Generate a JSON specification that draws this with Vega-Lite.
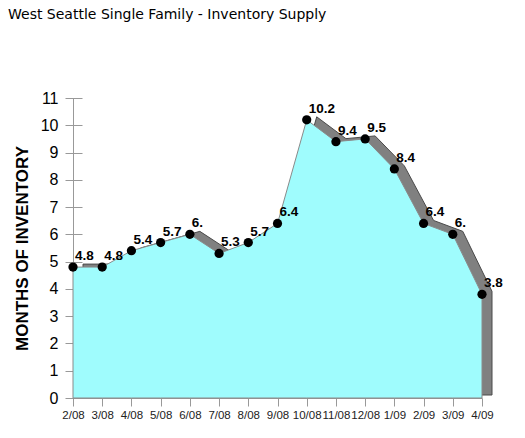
{
  "$schema": "https://vega.github.io/schema/vega-lite/v6.json",
  "width": 409,
  "height": 300,
  "autosize": "none",
  "padding": {"left": 73, "top": 98, "right": 43, "bottom": 40},
  "background": "white",
  "title": {
    "text": "West Seattle Single Family - Inventory Supply",
    "anchor": "start",
    "frame": "group",
    "dx": -65,
    "offset": 57,
    "baseline": "alphabetic",
    "font": "DejaVu Sans",
    "fontSize": 14,
    "fontWeight": "normal",
    "color": "black"
  },
  "data": {
    "values": [
      {"month": "2/08", "months": 4.8, "label": "4.8"},
      {"month": "3/08", "months": 4.8, "label": "4.8"},
      {"month": "4/08", "months": 5.4, "label": "5.4"},
      {"month": "5/08", "months": 5.7, "label": "5.7"},
      {"month": "6/08", "months": 6.0, "label": "6."},
      {"month": "7/08", "months": 5.3, "label": "5.3"},
      {"month": "8/08", "months": 5.7, "label": "5.7"},
      {"month": "9/08", "months": 6.4, "label": "6.4"},
      {"month": "10/08", "months": 10.2, "label": "10.2"},
      {"month": "11/08", "months": 9.4, "label": "9.4"},
      {"month": "12/08", "months": 9.5, "label": "9.5"},
      {"month": "1/09", "months": 8.4, "label": "8.4"},
      {"month": "2/09", "months": 6.4, "label": "6.4"},
      {"month": "3/09", "months": 6.0, "label": "6."},
      {"month": "4/09", "months": 3.8, "label": "3.8"}
    ]
  },
  "encoding": {
    "x": {
      "field": "month",
      "type": "ordinal",
      "sort": null,
      "scale": {"type": "point", "padding": 0},
      "title": null
    }
  },
  "layer": [
    {
      "mark": {"type": "area", "color": "#808080", "stroke": "#4a4a4a", "strokeWidth": 1, "xOffset": 10, "yOffset": -3},
      "encoding": {
        "y": {
          "field": "months",
          "type": "quantitative",
          "scale": {"domain": [0, 11], "nice": false},
          "axis": {
            "orient": "left",
            "domain": true,
            "domainColor": "#999999",
            "ticks": false,
            "labels": false,
            "grid": false,
            "title": "MONTHS OF INVENTORY",
            "titleFont": "Liberation Sans",
            "titleFontSize": 17,
            "titleFontWeight": "bold",
            "titleColor": "black",
            "titleAngle": -90,
            "titleX": -51,
            "titleY": 150,
            "titleAlign": "center",
            "titleBaseline": "middle"
          }
        }
      }
    },
    {
      "mark": {"type": "area", "color": "#9ffcfd", "stroke": "#8a8a8a", "strokeWidth": 1},
      "encoding": {
        "y": {
          "field": "months",
          "type": "quantitative",
          "scale": {"domain": [0, 11], "nice": false},
          "axis": {
            "orient": "left",
            "domain": false,
            "ticks": true,
            "tickSize": 17,
            "tickColor": "#999999",
            "offset": -9,
            "values": [0, 1, 2, 3, 4, 5, 6, 7, 8, 9, 10, 11],
            "labelFont": "Liberation Sans",
            "labelFontSize": 16,
            "labelColor": "black",
            "labelPadding": 7,
            "grid": false,
            "title": null
          }
        }
      }
    },
    {
      "mark": {"type": "circle", "color": "black", "opacity": 1, "size": 85},
      "encoding": {
        "y": {"field": "months", "type": "quantitative", "axis": null}
      }
    },
    {
      "mark": {"type": "text", "align": "left", "baseline": "alphabetic", "dx": 2, "dy": -7, "font": "Liberation Sans", "fontSize": 13.5, "fontWeight": "bold", "color": "black"},
      "encoding": {
        "y": {"field": "months", "type": "quantitative", "axis": null},
        "text": {"field": "label"}
      }
    }
  ],
  "resolve": {"axis": {"y": "independent"}},
  "config": {
    "view": {"stroke": null},
    "axisX": {
      "labelAngle": 0,
      "labelFont": "Liberation Sans",
      "labelFontSize": 11.5,
      "labelColor": "#222222",
      "labelPadding": 3,
      "tickSize": 8,
      "tickColor": "#999999",
      "domainColor": "#999999",
      "grid": false
    }
  }
}
